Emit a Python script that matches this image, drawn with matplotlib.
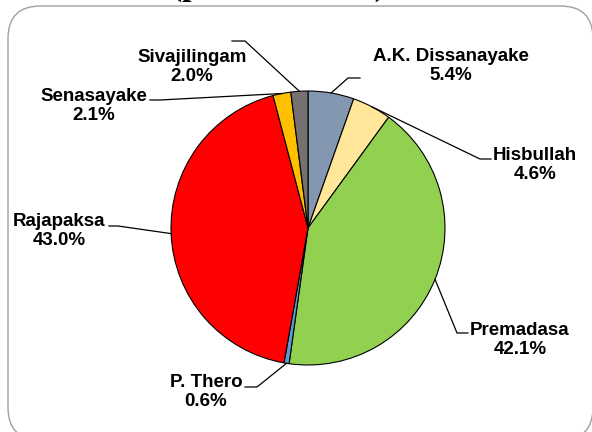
import matplotlib
matplotlib.use("Agg")
import matplotlib.pyplot as plt
from matplotlib.patches import FancyBboxPatch
import numpy as np

# vote share by candidate (percent)
candidates = ["A.K. Dissanayake", "Hisbullah", "Premadasa", "P. Thero",
              "Rajapaksa", "Senasayake", "Sivajilingam"]
shares = [5.4, 4.6, 42.1, 0.6, 43.0, 2.1, 2.0]
colors = ["#8497B0", "#FFE699", "#92D050", "#5B9BD5",
          "#FF0000", "#FFC000", "#767171"]

W, H = 592, 432
CX, CY, R = 308, 228, 137   # pie centre and radius in pixels

# label layout in pixels: text centre, elbow of leader, end of leader
label_pos = [(451, 66), (535, 165), (520, 340), (206, 392),
             (59, 231), (94, 106), (192, 67)]
elbows = [(348, 78), (480, 159), (457, 333), (257, 387),
          (118, 226), (160, 100), (245, 41)]
ends = [360, 491, 468, 245, 109, 150, 232]


def px(x, y):
    return (x - CX) / R, (CY - y) / R


fig = plt.figure(figsize=(W / 100, H / 100), dpi=100)

# rounded chart-area frame, partly running off the bottom/right
box = FancyBboxPatch((8 / W, -8 / H), 585 / W, 434 / H,
                     boxstyle="round,pad=0,rounding_size=0.055",
                     transform=fig.transFigure, facecolor="none",
                     edgecolor="#A0A0A0", linewidth=1.0, mutation_aspect=W / H,
                     zorder=-1)
fig.patches.append(box)

fig.text(278 / W, 1.0 + 5 / H, "(percent share)", ha="center", va="baseline",
         fontsize=24, fontweight="bold", family="Liberation Serif")

ax = fig.add_axes([(CX - R) / W, (H - CY - R) / H, 2 * R / W, 2 * R / H])
wedges, _ = ax.pie(shares, colors=colors, startangle=90, counterclock=False,
                   wedgeprops=dict(edgecolor="black", linewidth=0.8))
ax.set_xlim(-1, 1)
ax.set_ylim(-1, 1)
ax.axis("off")

font = dict(family=["Liberation Sans Narrow", "Liberation Sans"],
            fontweight="bold", fontsize=13.5)

for w, name, val, lp, el, ex in zip(wedges, candidates, shares,
                                    label_pos, elbows, ends):
    ang = np.deg2rad((w.theta1 + w.theta2) / 2)
    x0, y0 = np.cos(ang), np.sin(ang)
    x1, y1 = px(*el)
    x2, _ = px(ex, el[1])
    ax.plot([x0, x1, x2], [y0, y1, y1], color="black", lw=0.9,
            clip_on=False)
    tx, ty = px(*lp)
    ax.text(tx, ty, f"{name}\n{val:.1f}%", ha="center", va="center",
            linespacing=1.2, clip_on=False, **font)

fig.savefig("out.png", dpi=100)
